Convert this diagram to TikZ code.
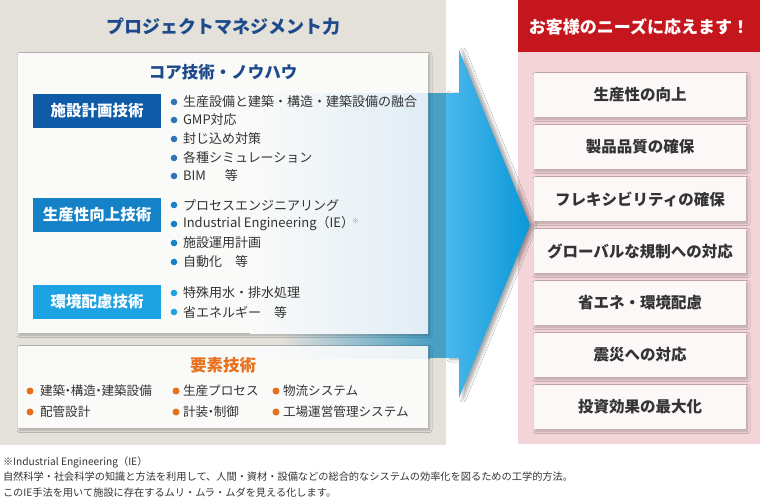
\documentclass[tikz,border=0pt]{standalone}
\usepackage{fontspec}
\setmainfont{Noto Sans CJK JP}
\usetikzlibrary{shadows,shadows.blur}
\definecolor{panel}{HTML}{E4E0DA}
\definecolor{titleblue}{HTML}{1D4A8B}
\definecolor{lb1}{HTML}{0F5BA8}
\definecolor{lb2}{HTML}{1581C7}
\definecolor{lb3}{HTML}{1DA2E2}
\definecolor{txt}{HTML}{333333}
\definecolor{orng}{HTML}{E8701A}
\definecolor{hdrred}{HTML}{C5161D}
\definecolor{pinkp}{HTML}{F3D5D9}
\definecolor{needfill}{HTML}{FBF8F7}
\definecolor{boxwhite}{HTML}{FAFAF9}
\definecolor{steel}{HTML}{4A9FC4}
\definecolor{arrowL}{HTML}{4AB8EC}
\definecolor{arrowR}{HTML}{0A97D8}
\definecolor{tint}{HTML}{E0EDF6}
\newcommand\narrowdot{\kern-0.28em・\kern-0.28em}
\begin{document}
\begin{tikzpicture}[x=1pt,y=-1pt,
  every node/.style={inner sep=0pt, outer sep=0pt},
  softshadow/.style={blur shadow={shadow xshift=1.5pt, shadow yshift=-2pt, shadow blur steps=6, shadow blur radius=2.5pt, shadow opacity=25}},
  whitebox/.style={fill=boxwhite, softshadow},
  labelbox/.style={minimum width=128pt, minimum height=34pt, text=white, font=\fontsize{15.5}{16}\selectfont\bfseries},
  itemtext/.style={anchor=west, text=txt, font=\fontsize{13}{14}\selectfont},
  yosotext/.style={anchor=west, text=txt, font=\fontsize{12.6}{14}\selectfont},
  needbox/.style={fill=needfill, minimum width=212pt, minimum height=44pt, text=txt, font=\fontsize{15.5}{16}\selectfont\bfseries, softshadow},
  foot/.style={anchor=west, text=txt, font=\fontsize{10.2}{12}\selectfont}
]
\useasboundingbox (0,0) rectangle (760,499);
\fill[white] (0,0) rectangle (760,499);
% left panel
\fill[panel] (0,0) rectangle (446,445);
% arrow body seen on the panel
\shade[left color=panel, right color=steel] (280,93) rectangle (430,358);
\fill[steel] (429.5,93) rectangle (446,358);
% core box
\node[whitebox, minimum width=410pt, minimum height=280pt] (core) at (223,193) {};
\shade[left color=boxwhite, right color=tint] (250,93) rectangle (428,333);
% yoso box
\node[whitebox, minimum width=410pt, minimum height=82pt] (yoso) at (223,387) {};
\shade[left color=boxwhite, right color=tint!60!boxwhite] (250,346) rectangle (428,358);
% right panel
\fill[pinkp] (518,52) rectangle (760,444);
\fill[hdrred] (518,0) rectangle (760,52);
% arrow
\path[blur shadow={shadow xshift=4pt, shadow yshift=-1pt, shadow blur steps=6, shadow blur radius=3pt, shadow opacity=35},
      left color=arrowL, right color=arrowR]
  (446,93) -- (459,93) -- (459,50) -- (530,225) -- (459,398) -- (459,358) -- (446,358) -- cycle;
% titles
\node[text=titleblue, font=\fontsize{18}{20}\selectfont\bfseries] (pm) at (223,27) {プロジェクトマネジメント力};
\node[text=titleblue, font=\fontsize{16.5}{18}\selectfont\bfseries] (coret) at (223,72) {コア技術・ノウハウ};
% label boxes
\node[labelbox, fill=lb1] (L1) at (97,111) {施設計画技術};
\node[labelbox, fill=lb2] (L2) at (97,215) {生産性向上技術};
\node[labelbox, fill=lb3] (L3) at (97,301.5) {環境配慮技術};
% group 1
\foreach \yy in {102,120,139,158,176} \fill[lb1!85!white] (174,\yy) circle (3.3pt);
\node[itemtext] (a1) at (183,102) {生産設備と建築・構造・建築設備の融合};
\node[itemtext] (a2) at (183,120) {GMP対応};
\node[itemtext] (a3) at (183,139) {封じ込め対策};
\node[itemtext] (a4) at (183,158) {各種シミュレーション};
\node[itemtext] (a5) at (183,176) {BIM\hspace{19pt}等};
% group 2
\foreach \yy in {205,224,243,262} \fill[lb2] (174,\yy) circle (3.3pt);
\node[itemtext] (b2) at (183,224) {Industrial Engineering（IE）};
\node[text=gray, font=\fontsize{6.5}{7}\selectfont] (b2n) at ([xshift=1.5pt,yshift=3pt]b2.east) {※};
\node[itemtext] (b1) at (183,205) {プロセスエンジニアリング};
\node[itemtext] (b3) at (183,243) {施設運用計画};
\node[itemtext] (b4) at (183,262) {自動化\quad 等};
% group 3
\foreach \yy in {293,312} \fill[lb3] (174,\yy) circle (3.3pt);
\node[itemtext] (c1) at (183,293) {特殊用水・排水処理};
\node[itemtext] (c2) at (183,312) {省エネルギー\quad 等};
% yoso
\node[text=orng, font=\fontsize{16.5}{18}\selectfont\bfseries] (yosot) at (223,365) {要素技術};
\foreach \xx/\yy in {30/391,30/412,176/391,176/412,276/391,276/412} \fill[orng] (\xx,\yy) circle (3.5pt);
\node[yosotext] (y1) at (40,391) {建築\narrowdot 構造\narrowdot 建築設備};
\node[yosotext] (y2) at (40,412) {配管設計};
\node[yosotext] (y3) at (183,391) {生産プロセス};
\node[yosotext] (y4) at (183,412) {計装\narrowdot 制御};
\node[yosotext] (y5) at (283,391) {物流システム};
\node[yosotext] (y6) at (283,412) {工場運営管理システム};
% right header
\node[text=white, font=\fontsize{17}{19}\selectfont\bfseries] (hdr) at (639,27) {お客様のニーズに応えます！};
% need boxes
\node[needbox] (n1) at (640,95) {生産性の向上};
\node[needbox] (n2) at (640,147) {製品品質の確保};
\node[needbox] (n3) at (640,199) {フレキシビリティの確保};
\node[needbox] (n4) at (640,251) {グローバルな規制への対応};
\node[needbox] (n5) at (640,303) {省エネ・環境配慮};
\node[needbox] (n6) at (640,355) {震災への対応};
\node[needbox] (n7) at (640,407) {投資効果の最大化};
% footnote
\node[foot] (f1) at (3,462) {※Industrial Engineering（IE）};
\node[foot] (f2) at (3,477) {自然科学・社会科学の知識と方法を利用して、人間・資材・設備などの総合的なシステムの効率化を図るための工学的方法。};
\node[foot] (f3) at (3,493) {このIE手法を用いて施設に存在するムリ・ムラ・ムダを見える化します。};
\end{tikzpicture}
\end{document}
